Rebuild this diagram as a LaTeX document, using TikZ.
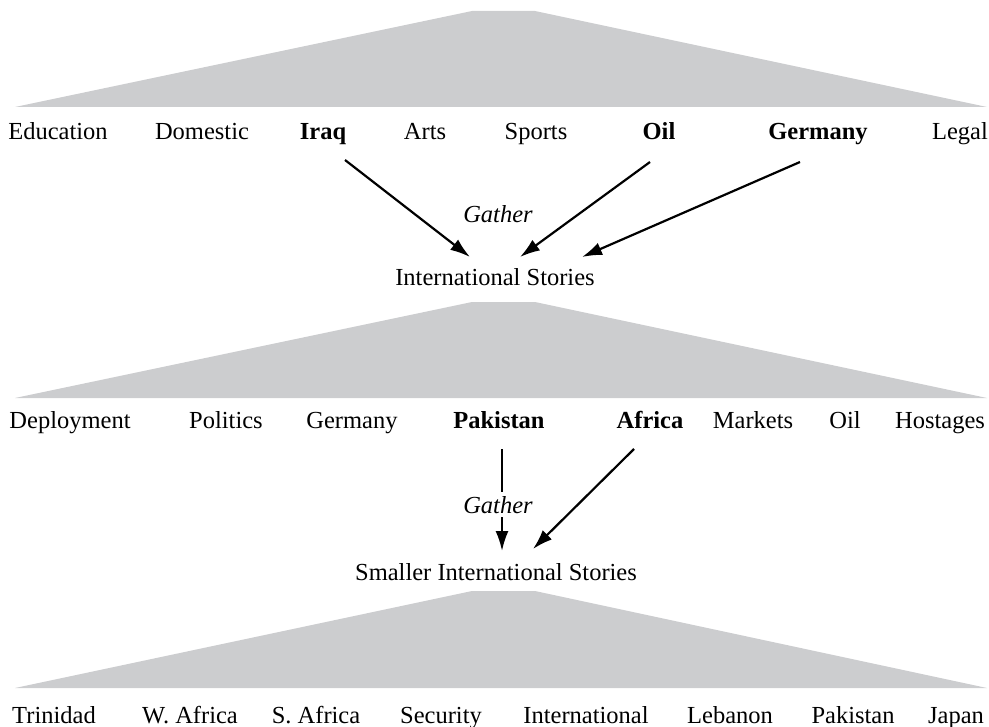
\documentclass[tikz,border=0pt]{standalone}
\usepackage{fontspec}
\setmainfont{Liberation Serif}
\usepackage{tikz}
\usetikzlibrary{arrows.meta}
\definecolor{fangray}{RGB}{204,205,207}

\begin{document}
\begin{tikzpicture}[x=0.5pt,y=-0.5pt,
	topic/.style={anchor=base,inner sep=0pt,font=\fontsize{12.25pt}{14pt}\selectfont},
	gatherarr/.style={line width=1.1pt,-{Latex[length=10pt,width=6.5pt]}}]
		\useasboundingbox (0,0) rectangle (989,727);
		% fans
		\fill[fangray] (472,11) -- (535,11) -- (987,107) -- (15,107) -- cycle;
		\fill[fangray] (472,302) -- (535,302) -- (987,398) -- (15,398) -- cycle;
		\fill[fangray] (472,591) -- (535,591) -- (987,688) -- (15,688) -- cycle;
		% first level
		\node[topic] (education) at (58,140) {Education};
		\node[topic] (domestic) at (202,140) {Domestic};
		\node[topic] (iraq) at (323,140) {\textbf{Iraq}};
		\node[topic] (arts) at (425,140) {Arts};
		\node[topic] (sports) at (536,140) {Sports};
		\node[topic] (oil) at (659,140) {\textbf{Oil}};
		\node[topic] (germany) at (818,140) {\textbf{Germany}};
		\node[topic] (legal) at (960,140) {Legal};
		\node[topic] (gather1) at (498,222) {\textit{Gather}};
		\node[topic] (intl) at (495,285) {International Stories};
		\coordinate (iraqout) at (345,160);
		\coordinate (oilout) at (650,162);
		\coordinate (germanyout) at (800,162);
		\coordinate (intlin1) at (470,257);
		\coordinate (intlin2) at (520,257);
		\coordinate (intlin3) at (582,257);
		\draw[gatherarr] (iraqout) -- (intlin1);
		\draw[gatherarr] (oilout) -- (intlin2);
		\draw[gatherarr] (germanyout) -- (intlin3);
		% second level
		\node[topic] (deployment) at (70,428) {Deployment};
		\node[topic] (politics) at (226,428) {Politics};
		\node[topic] (germany2) at (352,428) {Germany};
		\node[topic] (pakistan) at (499,428) {\textbf{Pakistan}};
		\node[topic] (africa) at (650,428) {\textbf{Africa}};
		\node[topic] (markets) at (753,428) {Markets};
		\node[topic] (oil2) at (845,428) {Oil};
		\node[topic] (hostages) at (940,428) {Hostages};
		\node[topic] (smaller) at (496,580) {Smaller International Stories};
		\coordinate (pakistanout) at (502,449);
		\coordinate (africaout) at (634,449);
		\coordinate (smallerin1) at (502,551);
		\coordinate (smallerin2) at (533,549);
		\draw[gatherarr] (pakistanout) -- (smallerin1);
		\node[topic,fill=white,inner sep=2pt] (gather2) at (498,513) {\textit{Gather}};
		\draw[gatherarr] (africaout) -- (smallerin2);
		% third level
		\node[topic] (trinidad) at (54,723) {Trinidad};
		\node[topic] (wafrica) at (190,723) {W. Africa};
		\node[topic] (safrica) at (316,723) {S. Africa};
		\node[topic] (security) at (441,723) {Security};
		\node[topic] (international) at (586,723) {International};
		\node[topic] (lebanon) at (730,723) {Lebanon};
		\node[topic] (pakistan2) at (853,723) {Pakistan};
		\node[topic] (japan) at (956,723) {Japan};
	\end{tikzpicture}
\end{document}
